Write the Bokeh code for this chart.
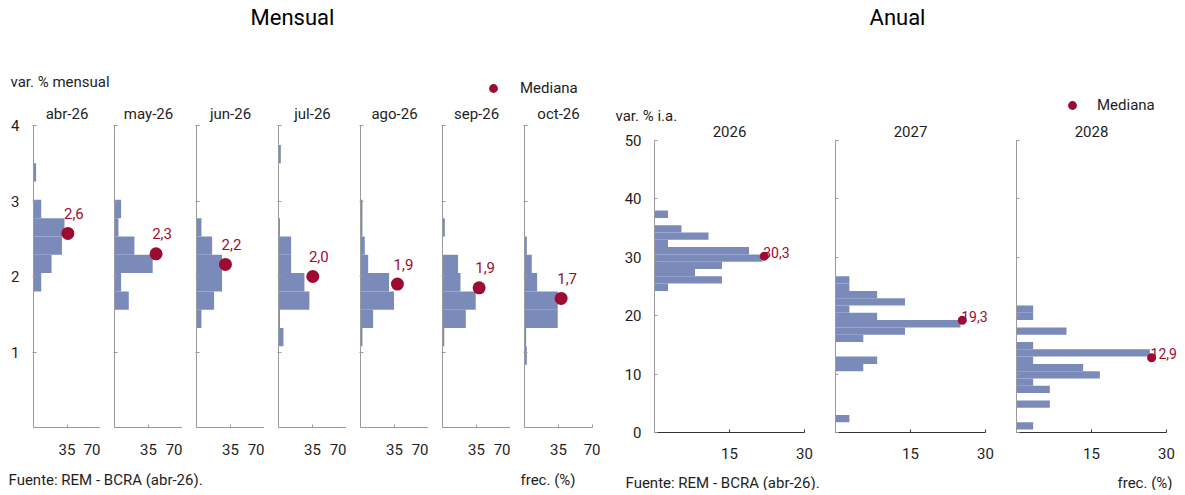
from bokeh.plotting import figure
from bokeh.layouts import row, column
from bokeh.models import Range1d, FixedTicker, Label, Legend, LegendItem
from bokeh.embed import file_html
from bokeh.resources import INLINE

FONT = "Roboto"
BAR_COLOR = "#7a8bb9"
MED_COLOR = "#9e0b32"
AXIS_COLOR = "#9a9a9a"
AXIS_DARK = "#333333"
TEXT_COLOR = "#1e1e1e"

# ---------------- data: monthly ----------------
month_labels = ["abr-26", "may-26", "jun-26", "jul-26", "ago-26", "sep-26", "oct-26"]
month_bin_width = 0.2425
month_bin_lo = [
    [1.8025, 2.045, 2.2875, 2.53, 2.7725, 3.2575],
    [1.56, 1.8025, 2.045, 2.2875, 2.53, 2.7725],
    [1.3175, 1.56, 1.8025, 2.045, 2.2875, 2.53],
    [1.075, 1.3175, 1.56, 1.8025, 2.045, 2.2875, 2.53, 3.5],
    [1.075, 1.3175, 1.56, 1.8025, 2.045, 2.2875, 2.53, 2.7725],
    [1.075, 1.3175, 1.56, 1.8025, 2.045, 2.53],
    [0.8325, 1.075, 1.3175, 1.56, 1.8025, 2.045, 2.2875],
]
month_freq = [
    [8.1, 18.9, 29.7, 32.4, 8.1, 2.7],
    [14.7, 6.8, 39.3, 20.5, 4.1, 6.8],
    [5.1, 18.1, 26.3, 26.3, 16.1, 5.1],
    [5.1, 1.5, 31.8, 26.7, 13.0, 13.0, 1.5, 2.4],
    [2.0, 13.0, 34.5, 29.4, 7.9, 4.4, 2.0, 2.0],
    [1.8, 24.0, 34.2, 18.5, 16.0, 2.4],
    [2.4, 1.7, 34.2, 34.2, 13.0, 7.5, 2.4],
]
month_median = [2.57, 2.30, 2.16, 2.00, 1.90, 1.85, 1.71]
month_median_text = ["2,6", "2,3", "2,2", "2,0", "1,9", "1,9", "1,7"]
month_y_ticks = [1, 2, 3, 4]
month_x_ticks = [0, 35, 70]

# ---------------- data: annual ----------------
year_labels = ["2026", "2027", "2028"]
year_bin_width = 1.25
year_bin_lo = [
    [24.25, 25.5, 26.75, 28.0, 29.25, 30.5, 31.75, 33.0, 34.25, 36.75],
    [1.75, 10.5, 11.75, 15.5, 16.75, 18.0, 19.25, 20.5, 21.75, 23.0, 24.25, 25.5],
    [0.5, 4.25, 6.75, 8.0, 9.25, 10.5, 11.75, 13.0, 14.25, 16.75, 19.25, 20.5],
]
year_freq = [
    [2.7, 13.5, 8.1, 13.5, 21.6, 18.9, 2.7, 10.8, 5.4, 2.7],
    [2.78, 5.56, 8.33, 5.56, 13.9, 25.0, 8.33, 2.78, 13.9, 8.33, 2.78, 2.78],
    [3.33, 6.67, 6.67, 3.33, 16.67, 13.33, 3.33, 26.67, 3.33, 10.0, 3.33, 3.33],
]
year_median = [30.2, 19.2, 12.8]
year_median_text = ["30,3", "19,3", "12,9"]
year_y_ticks = [0, 10, 20, 30, 40, 50]
year_x_ticks = [0, 15, 30]

NAN = float("nan")


def style_axis(ax, color):
    ax.axis_line_color = color
    ax.major_tick_line_color = color
    ax.minor_tick_line_color = None
    ax.major_label_text_font = FONT
    ax.major_label_text_font_size = "15px"
    ax.major_label_text_color = TEXT_COLOR


def blank_fig(w, h):
    p = figure(width=w, height=h, x_range=Range1d(0, w), y_range=Range1d(0, h),
               output_backend="svg", toolbar_location=None, title=None,
               x_axis_location=None, y_axis_location=None, min_border=0)
    p.grid.visible = False
    p.outline_line_color = None
    return p


def txt(p, x, y, text, size="15px", align="left", color=TEXT_COLOR):
    p.add_layout(Label(x=x, y=y, text=text, text_align=align, text_baseline="middle",
                       text_font=FONT, text_font_size=size, text_color=color))


def legend(p, loc, standoff):
    r = p.scatter(x=[NAN], y=[NAN], size=13, fill_color=MED_COLOR, line_color=None)
    lg = Legend(items=[LegendItem(label="Mediana", renderers=[r])], location=loc,
                padding=0, margin=0, spacing=0, border_line_color=None,
                background_fill_alpha=0, label_standoff=standoff,
                glyph_width=22, glyph_height=22, label_height=22,
                label_text_font=FONT, label_text_font_size="15px",
                label_text_color=TEXT_COLOR)
    p.add_layout(lg)


# ---------------- monthly block ----------------
MW = 592
M_PX = 75.5          # pixels per unit on the monthly value axis
hm = blank_fig(MW, 100)
txt(hm, 284, 83, "Mensual", size="22px", align="center", color="#000000")
txt(hm, 2, 19, "var. % mensual")
legend(hm, (474, 1), 16)

m_figs = []
for i, name in enumerate(month_labels):
    left = 24 if i == 0 else 14
    right = 8 if i == len(month_labels) - 1 else 0
    p = figure(width=left + 68 + right, height=362, x_range=Range1d(0, 70),
               y_range=Range1d(0, 327 / M_PX),
               output_backend="svg", toolbar_location=None, title=None,
               min_border_left=left, min_border_right=right, min_border_top=0, min_border_bottom=35)
    p.grid.visible = False
    p.outline_line_color = None
    xa = p.xaxis[0]
    ya = p.yaxis[0]
    style_axis(xa, AXIS_COLOR)
    style_axis(ya, AXIS_COLOR)
    xa.ticker = FixedTicker(ticks=month_x_ticks)
    xa.major_label_overrides = {0: ""}
    xa.major_tick_in = 3
    xa.major_tick_out = 0
    xa.major_label_standoff = 16
    ya.ticker = FixedTicker(ticks=month_y_ticks)
    ya.bounds = (0, 4)
    ya.major_tick_in = 3
    ya.major_tick_out = 1
    if i == 0:
        ya.major_label_standoff = 13
    else:
        ya.major_label_overrides = {t: "" for t in month_y_ticks}
        ya.major_label_standoff = 0
    lo = month_bin_lo[i]
    fr = month_freq[i]
    p.quad(left=0, right=fr, bottom=lo, top=[v + month_bin_width for v in lo],
           fill_color=BAR_COLOR, line_color=None)
    mx = max(fr) + 3.5
    p.scatter(x=[mx], y=[month_median[i]], size=13, fill_color=MED_COLOR, line_color=None)
    p.add_layout(Label(x=mx, y=month_median[i], text=month_median_text[i], x_offset=6, y_offset=20,
                       text_align="center", text_baseline="alphabetic", text_font=FONT,
                       text_font_size="15px", text_color=MED_COLOR))
    p.add_layout(Label(x=35, y=4 + 12 / M_PX, text=name, text_align="center",
                       text_baseline="middle", text_font=FONT, text_font_size="15px",
                       text_color=TEXT_COLOR))
    m_figs.append(p)

fm = blank_fig(MW, 28)
txt(fm, 0, 11, "Fuente: REM - BCRA (abr-26).")
txt(fm, 512, 11, "frec. (%)")

# ---------------- annual block ----------------
A_PX_Y = 5.84        # pixels per unit, value axis
A_PX_X = 5.0         # pixels per unit, frequency axis
AW = 578
ha = blank_fig(AW, 124)
txt(ha, 297, 107, "Anual", size="22px", align="center", color="#000000")
txt(ha, 15, 9, "var. % i.a.")
legend(ha, (461, 8), 14)

a_lefts = [54, 0, 0]
a_frames = [181, 181, 162]
a_figs = []
for i, name in enumerate(year_labels):
    left = a_lefts[i]
    fw = a_frames[i]
    p = figure(width=left + fw, height=342, x_range=Range1d(0, fw / A_PX_X),
               y_range=Range1d(0, 308 / A_PX_Y),
               output_backend="svg", toolbar_location=None, title=None,
               min_border_left=left, min_border_right=0, min_border_top=0, min_border_bottom=34)
    p.grid.visible = False
    p.outline_line_color = None
    xa = p.xaxis[0]
    ya = p.yaxis[0]
    style_axis(xa, AXIS_DARK)
    style_axis(ya, AXIS_COLOR)
    xa.ticker = FixedTicker(ticks=year_x_ticks)
    xa.bounds = (0, 30)
    xa.major_label_overrides = {0: ""}
    xa.major_tick_in = 3
    xa.major_tick_out = 0
    xa.major_label_standoff = 15
    ya.ticker = FixedTicker(ticks=year_y_ticks)
    ya.bounds = (0, 50)
    ya.major_tick_in = 3
    ya.major_tick_out = 0
    if i == 0:
        ya.major_label_standoff = 13
    else:
        ya.major_label_overrides = {t: "" for t in year_y_ticks}
        ya.major_label_standoff = 0
    lo = year_bin_lo[i]
    fr = year_freq[i]
    p.quad(left=0, right=fr, bottom=lo, top=[v + year_bin_width for v in lo],
           fill_color=BAR_COLOR, line_color=None)
    mx = max(fr) + 0.35
    p.scatter(x=[mx], y=[year_median[i]], size=9, fill_color=MED_COLOR, line_color=None)
    p.add_layout(Label(x=mx, y=year_median[i], text=year_median_text[i], x_offset=-1, y_offset=4,
                       text_align="left", text_baseline="alphabetic", text_font=FONT,
                       text_font_size="14px", text_color=MED_COLOR))
    p.add_layout(Label(x=15, y=50 + 9.5 / A_PX_Y, text=name, text_align="center",
                       text_baseline="middle", text_font=FONT, text_font_size="15px",
                       text_color=TEXT_COLOR))
    a_figs.append(p)

fa = blank_fig(AW, 24)
txt(fa, 25, 8, "Fuente: REM - BCRA (abr-26).")
txt(fa, 517, 8, "frec. (%)")

layout = row(column(hm, row(*m_figs, spacing=0), fm, spacing=0),
             column(ha, row(*a_figs, spacing=0), fa, spacing=0),
             spacing=0, margin=(0, 0, 0, 8))

open("out.html", "w").write(file_html(layout, INLINE))
